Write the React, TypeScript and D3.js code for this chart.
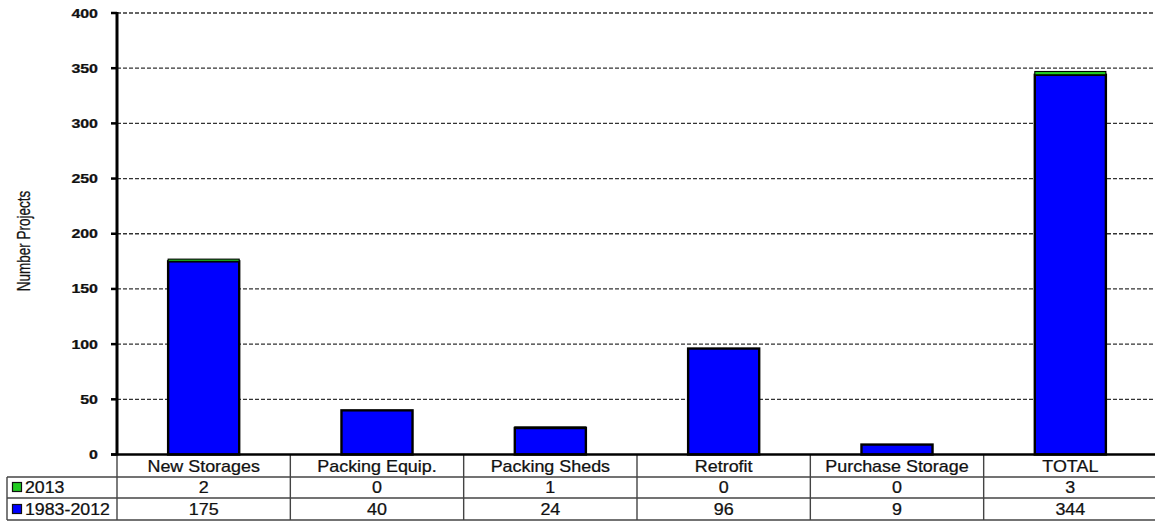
import React from "react";
import * as d3 from "d3";

// Project counts by category
const categories = ["New Storages", "Packing Equip.", "Packing Sheds", "Retrofit", "Purchase Storage", "TOTAL"];
const series1983to2012 = [175, 40, 24, 96, 9, 344];
const series2013 = [2, 0, 1, 0, 0, 3];
const seriesNames = ["2013", "1983-2012"];
const yTicks = [0, 50, 100, 150, 200, 250, 300, 350, 400];

const W = 1155;
const H = 521;
const FONT = "'Liberation Sans', Arial, sans-serif";
const BLUE = "#0000FF";
const GREEN = "#22CC22";

const plotLeft = 117;
const plotRight = 1157;
const plotTop = 13;
const plotBottom = 454.5;

const headerTop = 454;
const row1Top = 477;
const row2Top = 498;
const tableBottom = 520;

type STProps = {
  x: number;
  y: number;
  sx: number;
  size: number;
  anchor?: "start" | "middle" | "end";
  weight?: string;
  children: React.ReactNode;
};

// Text stretched horizontally around its anchor point
function SText({ x, y, sx, size, anchor = "middle", weight = "normal", children }: STProps) {
  return (
    <text
      transform={`translate(${x},${y}) scale(${sx},1)`}
      textAnchor={anchor}
      fontFamily={FONT}
      fontSize={size}
      fontWeight={weight}
      fill="#111"
      stroke="#111"
      strokeWidth={0.25}
    >
      {children}
    </text>
  );
}

export default function App() {
  const x = d3.scaleBand<string>().domain(categories).range([plotLeft, plotRight]).padding(0);
  const y = d3.scaleLinear().domain([0, 400]).range([plotBottom, plotTop]);
  const barW = x.bandwidth() * 0.41;

  const stackData = categories.map((c, i) => ({ cat: c, base: series1983to2012[i], top: series2013[i] }));
  const stack = d3.stack<{ cat: string; base: number; top: number }>().keys(["base", "top"]);
  const layers = stack(stackData);
  const layerColors = [BLUE, GREEN];
  const layerStroke = [2.4, 1.1];

  const rows = [
    { name: seriesNames[0], color: GREEN, values: series2013, top: row1Top, bottom: row2Top },
    { name: seriesNames[1], color: BLUE, values: series1983to2012, top: row2Top, bottom: tableBottom },
  ];

  return (
    <svg
      width={W}
      height={H}
      style={{ position: "absolute", left: 0, top: 0, background: "#fff" }}
    >
      <rect x={0} y={0} width={W} height={H} fill="#fff" />

      {/* dashed gridlines */}
      {yTicks.filter((t) => t > 0).map((t) => (
        <line
          key={`g${t}`}
          x1={plotLeft}
          x2={W}
          y1={y(t)}
          y2={y(t)}
          stroke="#333"
          strokeWidth={1.3}
          strokeDasharray="4,2"
        />
      ))}

      {/* stacked bars */}
      {layers.map((layer, li) =>
        layer.map((d, i) => {
          const h = y(d[0]) - y(d[1]);
          if (h <= 0) return null;
          return (
            <rect
              key={`b${li}-${i}`}
              x={(x(categories[i]) as number) + (x.bandwidth() - barW) / 2}
              y={y(d[1])}
              width={barW}
              height={h}
              fill={layerColors[li]}
              stroke="#000"
              strokeWidth={layerStroke[li]}
            />
          );
        })
      )}

      {/* y axis */}
      <line x1={plotLeft} x2={plotLeft} y1={plotTop - 1} y2={plotBottom + 1} stroke="#000" strokeWidth={3} />
      {yTicks.map((t) => (
        <g key={`t${t}`}>
          <line x1={plotLeft - 6} x2={plotLeft} y1={y(t)} y2={y(t)} stroke="#000" strokeWidth={2.5} />
          <SText x={98} y={y(t) + 4.5} sx={1.33} size={12} anchor="end" weight="bold">
            {t}
          </SText>
        </g>
      ))}

      {/* y axis title */}
      <text
        transform={`translate(30,241) rotate(-90) scale(1,1.3)`}
        textAnchor="middle"
        fontFamily={FONT}
        fontSize={13.5}
        fill="#111"
        stroke="#111"
        strokeWidth={0.2}
      >
        Number Projects
      </text>

      {/* data table */}
      <g>
        {/* header row bottom and row separators */}
        <line x1={7} x2={W} y1={row1Top} y2={row1Top} stroke="#444" strokeWidth={1.4} />
        <line x1={7} x2={W} y1={row2Top} y2={row2Top} stroke="#444" strokeWidth={1.4} />
        <line x1={7} x2={W} y1={tableBottom} y2={tableBottom} stroke="#444" strokeWidth={1.4} />
        <line x1={7} x2={7} y1={row1Top} y2={tableBottom} stroke="#444" strokeWidth={1.4} />
        {categories.map((c) => (
          <line
            key={`v${c}`}
            x1={x(c) as number}
            x2={x(c) as number}
            y1={headerTop}
            y2={tableBottom}
            stroke="#444"
            strokeWidth={1.4}
          />
        ))}
        {categories.map((c) => (
          <SText key={`h${c}`} x={(x(c) as number) + x.bandwidth() / 2} y={472} sx={1.12} size={16}>
            {c}
          </SText>
        ))}
        {rows.map((r) => {
          const base = r.bottom - 5;
          return (
            <g key={r.name}>
              <rect x={12.5} y={base - 10.5} width={9} height={9} fill={r.color} stroke="#111" strokeWidth={1.2} />
              <SText x={25} y={base} sx={1.11} size={16} anchor="start">
                {r.name}
              </SText>
              {r.values.map((v, i) => (
                <SText
                  key={`${r.name}${i}`}
                  x={(x(categories[i]) as number) + x.bandwidth() / 2}
                  y={base}
                  sx={1.12}
                  size={16}
                >
                  {v}
                </SText>
              ))}
            </g>
          );
        })}
      </g>

      {/* x axis line */}
      <line x1={plotLeft - 6} x2={W} y1={plotBottom} y2={plotBottom} stroke="#000" strokeWidth={2.5} />
    </svg>
  );
}
